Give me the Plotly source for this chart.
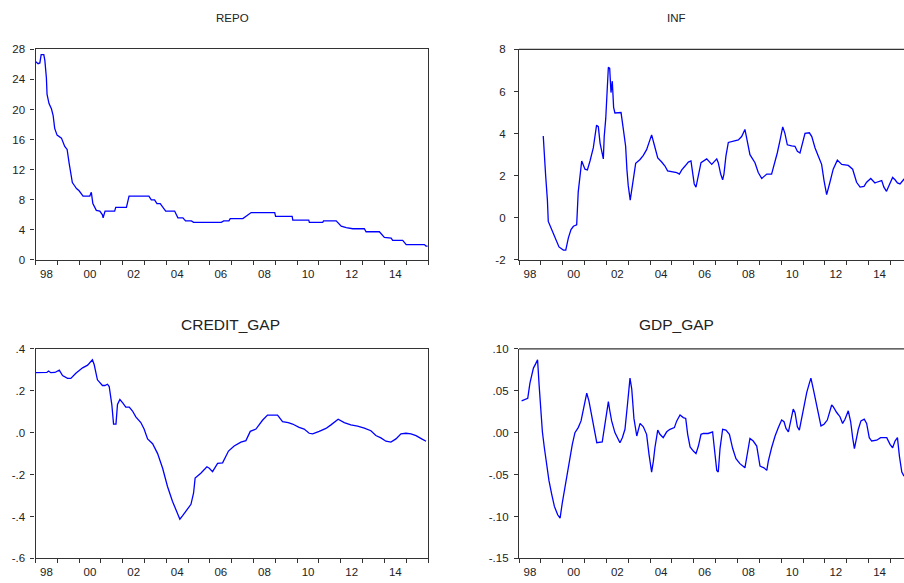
import plotly.graph_objects as go

# ---------------- data (decimal year, value) ----------------
repo_t = [1998.00, 1998.12, 1998.20, 1998.26, 1998.38, 1998.43, 1998.50, 1998.53, 1998.62, 1998.73,
          1998.81, 1998.88, 1998.99, 1999.19, 1999.34, 1999.45, 1999.54, 1999.60, 1999.69, 1999.76,
          1999.88, 2000.00, 2000.11, 2000.18, 2000.49, 2000.56, 2000.63, 2000.72, 2000.79, 2000.95,
          2001.07, 2001.10, 2001.19, 2001.63, 2001.68, 2002.17, 2002.29, 2003.20, 2003.31, 2003.46,
          2003.57, 2003.72, 2003.85, 2003.97, 2004.38, 2004.53, 2004.76, 2004.88, 2005.15, 2005.25,
          2006.52, 2006.63, 2006.87, 2006.93, 2007.51, 2007.66, 2007.89, 2008.97, 2009.01, 2009.77,
          2009.80, 2010.53, 2010.56, 2011.17, 2011.21, 2011.79, 2011.90, 2012.02, 2012.25, 2012.55,
          2013.08, 2013.16, 2013.77, 2013.85, 2014.00, 2014.31, 2014.38, 2014.84, 2015.00, 2015.83,
          2015.91, 2015.98]
repo_v = [26.4, 26.1, 26.2, 27.3, 27.3, 26.5, 24.2, 22.0, 20.8, 20.1,
          19.2, 17.5, 16.6, 16.2, 15.1, 14.7, 12.9, 11.6, 10.3, 10.0,
          9.5, 9.2, 8.8, 8.5, 8.5, 9.0, 7.5, 7.0, 6.6, 6.5,
          6.0, 5.6, 6.5, 6.5, 7.0, 7.0, 8.5, 8.5, 8.0, 8.0,
          7.5, 7.5, 7.0, 6.5, 6.5, 5.6, 5.6, 5.2, 5.2, 5.0,
          5.0, 5.2, 5.2, 5.5, 5.5, 5.8, 6.3, 6.3, 5.8, 5.8,
          5.3, 5.3, 5.0, 5.0, 5.2, 5.2, 4.9, 4.5, 4.3, 4.15,
          4.15, 3.75, 3.75, 3.5, 3.0, 2.9, 2.6, 2.6, 2.05, 2.05,
          1.85, 1.85]

inf_t = [1999.11, 1999.16, 1999.22, 1999.30, 1999.34, 1999.50, 1999.65, 1999.83, 2000.03, 2000.14,
         2000.26, 2000.38, 2000.49, 2000.64, 2000.71, 2000.79, 2000.87, 2001.02, 2001.13, 2001.25,
         2001.40, 2001.55, 2001.63, 2001.71, 2001.78, 2001.86, 2001.90, 2001.97, 2002.03, 2002.09,
         2002.15, 2002.21, 2002.27, 2002.33, 2002.39, 2002.67, 2002.77, 2002.88, 2002.94, 2003.00,
         2003.09, 2003.16, 2003.23, 2003.34, 2003.54, 2003.69, 2003.84, 2003.95, 2004.07, 2004.19,
         2004.35, 2004.53, 2004.68, 2004.80, 2005.06, 2005.22, 2005.34, 2005.45, 2005.60, 2005.75,
         2005.87, 2005.95, 2006.02, 2006.10, 2006.21, 2006.33, 2006.59, 2006.82, 2007.05, 2007.12,
         2007.23, 2007.32, 2007.38, 2007.47, 2007.58, 2007.81, 2008.04, 2008.19, 2008.34, 2008.42,
         2008.57, 2008.80, 2008.95, 2009.11, 2009.34, 2009.56, 2009.67, 2009.82, 2009.95, 2010.07,
         2010.17, 2010.28, 2010.48, 2010.63, 2010.74, 2010.86, 2011.09, 2011.29, 2011.40, 2011.55,
         2011.70, 2011.85, 2011.96, 2012.08, 2012.23, 2012.38, 2012.57, 2012.77, 2013.07, 2013.27,
         2013.45, 2013.61, 2013.79, 2013.91, 2014.10, 2014.29, 2014.37, 2014.60, 2014.70, 2014.82,
         2014.95, 2015.10, 2015.21, 2015.32, 2015.44, 2015.62, 2015.80]
inf_v = [3.89, 3.21, 2.00, 0.84, -0.17, -0.56, -0.95, -1.38, -1.53, -1.53,
         -0.95, -0.56, -0.40, -0.33, 1.22, 2.15, 2.70, 2.31, 2.28, 2.70,
         3.32, 4.40, 4.33, 3.55, 3.24, 2.80, 3.86, 4.71, 5.95, 7.15,
         7.10, 5.95, 6.49, 5.25, 4.98, 5.00, 4.25, 3.40, 2.28, 1.53,
         0.84, 1.38, 2.00, 2.59, 2.77, 2.97, 3.24, 3.55, 3.94, 3.47,
         2.85, 2.65, 2.46, 2.23, 2.20, 2.15, 2.08, 2.28, 2.46, 2.65,
         2.70, 2.00, 1.61, 1.46, 2.00, 2.62, 2.80, 2.54, 2.80, 2.62,
         2.08, 1.81, 2.08, 2.93, 3.58, 3.63, 3.70, 3.86, 4.20, 3.78,
         3.00, 2.62, 2.15, 1.87, 2.08, 2.08, 2.46, 3.08, 3.70, 4.32,
         4.01, 3.47, 3.42, 3.40, 3.16, 3.08, 4.01, 4.04, 3.86, 3.32,
         2.93, 2.54, 1.77, 1.10, 1.69, 2.31, 2.74, 2.54, 2.49, 2.31,
         1.69, 1.46, 1.49, 1.69, 1.87, 1.66, 1.69, 1.77, 1.46, 1.26,
         1.57, 1.92, 1.81, 1.66, 1.61, 1.84, 1.90]

credit_t = [1998.00, 1998.52, 1998.60, 1998.70, 1998.89, 1999.09, 1999.24, 1999.47, 1999.62, 1999.85,
            2000.16, 2000.39, 2000.61, 2000.69, 2000.84, 2001.07, 2001.18, 2001.30, 2001.38, 2001.50,
            2001.58, 2001.69, 2001.76, 2001.87, 2002.00, 2002.14, 2002.30, 2002.45, 2002.60, 2002.83,
            2002.98, 2003.14, 2003.37, 2003.60, 2003.83, 2004.05, 2004.28, 2004.51, 2004.62, 2004.74,
            2004.97, 2005.13, 2005.25, 2005.32, 2005.58, 2005.86, 2005.97, 2006.12, 2006.35, 2006.58,
            2006.85, 2007.11, 2007.42, 2007.65, 2007.85, 2008.11, 2008.41, 2008.64, 2009.10, 2009.33,
            2009.59, 2009.79, 2010.09, 2010.32, 2010.55, 2010.71, 2011.01, 2011.32, 2011.55, 2011.88,
            2012.16, 2012.46, 2012.77, 2013.08, 2013.38, 2013.61, 2013.84, 2014.07, 2014.30, 2014.53,
            2014.76, 2014.99, 2015.22, 2015.45, 2015.71, 2015.91]
credit_v = [0.286, 0.287, 0.294, 0.286, 0.287, 0.298, 0.272, 0.259, 0.259, 0.283,
            0.309, 0.322, 0.348, 0.325, 0.252, 0.225, 0.225, 0.231, 0.220, 0.134,
            0.041, 0.041, 0.134, 0.158, 0.142, 0.122, 0.122, 0.103, 0.075, 0.048,
            0.017, -0.030, -0.053, -0.100, -0.170, -0.256, -0.327, -0.389, -0.413, -0.397,
            -0.366, -0.342, -0.288, -0.217, -0.194, -0.163, -0.170, -0.186, -0.147, -0.144,
            -0.088, -0.064, -0.045, -0.038, 0.006, 0.017, 0.059, 0.084, 0.084, 0.052,
            0.048, 0.041, 0.025, 0.017, -0.003, -0.006, 0.006, 0.020, 0.037, 0.064,
            0.048, 0.037, 0.031, 0.022, 0.009, -0.014, -0.025, -0.041, -0.045, -0.030,
            -0.006, -0.003, -0.006, -0.014, -0.030, -0.041]

gdp_t = [1998.12, 1998.40, 1998.50, 1998.58, 1998.66, 1998.76, 1998.85, 1998.92, 1998.99, 1999.07,
         1999.16, 1999.27, 1999.37, 1999.50, 1999.62, 1999.77, 1999.88, 1999.98, 2000.11, 2000.23,
         2000.33, 2000.44, 2000.56, 2000.71, 2000.84, 2000.94, 2001.10, 2001.20, 2001.33, 2001.45,
         2001.56, 2001.81, 2001.94, 2002.09, 2002.15, 2002.24, 2002.39, 2002.62, 2002.73, 2002.85,
         2002.97, 2003.08, 2003.16, 2003.26, 2003.39, 2003.54, 2003.69, 2003.84, 2003.95, 2004.07,
         2004.15, 2004.22, 2004.35, 2004.45, 2004.60, 2004.76, 2004.91, 2005.11, 2005.22, 2005.37,
         2005.52, 2005.63, 2005.72, 2005.83, 2005.98, 2006.10, 2006.21, 2006.33, 2006.44, 2006.66,
         2006.86, 2006.97, 2007.05, 2007.12, 2007.20, 2007.32, 2007.47, 2007.63, 2007.78, 2007.93,
         2008.11, 2008.34, 2008.45, 2008.57, 2008.72, 2008.88, 2009.03, 2009.21, 2009.34, 2009.41,
         2009.56, 2009.72, 2009.87, 2010.02, 2010.13, 2010.22, 2010.33, 2010.44, 2010.55, 2010.63,
         2010.74, 2010.83, 2010.94, 2011.04, 2011.17, 2011.29, 2011.36, 2011.47, 2011.59, 2011.70,
         2011.82, 2011.96, 2012.11, 2012.31, 2012.38, 2012.54, 2012.69, 2012.81, 2012.92, 2013.07,
         2013.18, 2013.27, 2013.35, 2013.42, 2013.53, 2013.65, 2013.80, 2013.91, 2014.03, 2014.14,
         2014.37, 2014.55, 2014.83, 2014.98, 2015.10, 2015.21, 2015.32, 2015.41, 2015.52, 2015.60,
         2015.75]
gdp_v = [0.038, 0.041, 0.059, 0.069, 0.077, 0.082, 0.087, 0.057, 0.028, 0.001,
         -0.018, -0.040, -0.057, -0.074, -0.088, -0.098, -0.102, -0.084, -0.065, -0.045,
         -0.028, -0.014, 0.000, 0.006, 0.014, 0.028, 0.047, 0.038, 0.019, 0.001,
         -0.012, -0.011, 0.011, 0.037, 0.027, 0.014, 0.000, -0.012, -0.006, 0.004,
         0.035, 0.065, 0.052, 0.017, -0.004, 0.011, 0.007, -0.002, -0.026, -0.047,
         -0.034, -0.018, 0.003, -0.002, -0.006, 0.001, 0.004, 0.006, 0.014, 0.021,
         0.018, 0.017, -0.002, -0.017, -0.022, -0.025, -0.016, -0.002, -0.001, -0.001,
         0.001, -0.026, -0.045, -0.047, -0.019, 0.004, 0.003, -0.002, -0.019, -0.031,
         -0.037, -0.042, -0.024, -0.007, -0.010, -0.016, -0.040, -0.042, -0.045, -0.034,
         -0.018, -0.004, 0.006, 0.015, 0.013, 0.005, 0.001, 0.017, 0.028, 0.024,
         0.007, 0.003, 0.017, 0.034, 0.048, 0.059, 0.065, 0.052, 0.037, 0.023,
         0.008, 0.010, 0.015, 0.033, 0.031, 0.024, 0.019, 0.011, 0.016, 0.026,
         0.013, -0.006, -0.019, -0.010, 0.004, 0.014, 0.016, 0.011, -0.006, -0.010,
         -0.009, -0.006, -0.006, -0.014, -0.018, -0.010, -0.006, -0.028, -0.047, -0.051,
         -0.055]

titles = ["REPO", "INF", "CREDIT_GAP", "GDP_GAP"]
year_labels = ["98", "00", "02", "04", "06", "08", "10", "12", "14"]
year_label_pos = [1998.5 + 2 * i for i in range(9)]
year_ticks = list(range(1998, 2017))

repo_ticks = [0, 4, 8, 12, 16, 20, 24, 28]
repo_ticktext = ["0", "4", "8", "12", "16", "20", "24", "28"]
inf_ticks = [-2, 0, 2, 4, 6, 8]
inf_ticktext = ["-2", "0", "2", "4", "6", "8"]
credit_ticks = [-0.6, -0.4, -0.2, 0.0, 0.2, 0.4]
credit_ticktext = ["-.6", "-.4", "-.2", ".0", ".2", ".4"]
gdp_ticks = [-0.15, -0.10, -0.05, 0.0, 0.05, 0.10]
gdp_ticktext = ["-.15", "-.10", "-.05", ".00", ".05", ".10"]

# ---------------- figure ----------------
W, H = 904, 583
LINE = "#0000ff"
AX = "#333333"
FONT = "Arial, Liberation Sans, sans-serif"
TICKFONT = dict(family=FONT, size=11.5, color="#222222")

fig = go.Figure()
series = [(repo_t, repo_v, "x", "y"), (inf_t, inf_v, "x2", "y2"),
          (credit_t, credit_v, "x3", "y3"), (gdp_t, gdp_v, "x4", "y4")]
for t, v, xa, ya in series:
    fig.add_trace(go.Scatter(x=t, y=v, mode="lines", xaxis=xa, yaxis=ya,
                             line=dict(color=LINE, width=1.3), showlegend=False,
                             hoverinfo="skip"))

def px_x(p):
    return p / W

def px_y(p):
    return 1 - p / H

left_dom = [px_x(35.5), px_x(428)]
right_dom = [px_x(519), 1.0]
top_dom = [px_y(259.3), px_y(44.3)]
bot_dom = [px_y(564), px_y(350)]

def xaxis(dom, anchor, rng, mirror):
    return dict(domain=dom, anchor=anchor, range=rng, showgrid=False, zeroline=False,
                showline=True, linecolor=AX, linewidth=1.2, mirror=mirror,
                tickmode="array", tickvals=year_label_pos, ticktext=year_labels,
                ticks="outside", ticklen=3, tickcolor="rgba(0,0,0,0)",
                tickfont=TICKFONT,
                minor=dict(tickmode="array", tickvals=year_ticks, ticks="outside",
                           ticklen=4, tickcolor=AX, tickwidth=1, showgrid=False),
                fixedrange=True)

def yaxis(dom, anchor, rng, tv, tt, mirror, standoff):
    return dict(domain=dom, anchor=anchor, range=rng, showgrid=False, zeroline=False,
                showline=True, linecolor=AX, linewidth=1.2, mirror=mirror,
                tickmode="array", tickvals=tv, ticktext=tt, ticks="outside",
                ticklen=4, tickcolor=AX, tickwidth=1, ticklabelstandoff=standoff,
                tickfont=TICKFONT, fixedrange=True)

xr_right = 1998 + (904 - 519) / 21.85

fig.update_layout(
    width=W, height=H, autosize=False,
    margin=dict(l=0, r=0, t=0, b=0),
    paper_bgcolor="white", plot_bgcolor="white",
    xaxis=xaxis(left_dom, "y", [1998, 2016], True),
    yaxis=yaxis(top_dom, "x", [0, 28], repo_ticks, repo_ticktext, True, 3),
    xaxis2=xaxis(right_dom, "y2", [1998, xr_right], False),
    yaxis2=yaxis(top_dom, "x2", [-2, 8], inf_ticks, inf_ticktext, False, 6),
    xaxis3=xaxis(left_dom, "y3", [1998, 2016], True),
    yaxis3=yaxis(bot_dom, "x3", [-0.6, 0.4], credit_ticks, credit_ticktext, True, 3),
    xaxis4=xaxis(right_dom, "y4", [1998, xr_right], False),
    yaxis4=yaxis(bot_dom, "x4", [-0.15, 0.10], gdp_ticks, gdp_ticktext, False, 3),
)

# top border of the right-hand panels (their right edge lies outside the picture)
for xd, yd in [("x2 domain", "y2 domain"), ("x4 domain", "y4 domain")]:
    fig.add_shape(type="line", xref=xd, yref=yd, x0=0, x1=1, y0=1, y1=1,
                  line=dict(color=AX, width=1.2))

title_pos = [(232, 12, 11.5), (676, 12, 11.5), (231, 325, 15.5), (676, 325, 15.5)]
for text, (x, y, s) in zip(titles, title_pos):
    fig.add_annotation(text=text, x=px_x(x), y=px_y(y), xref="paper", yref="paper",
                       showarrow=False, xanchor="center", yanchor="middle",
                       font=dict(family=FONT, size=s, color="#222222"))

fig.write_html("out.html", config={"displayModeBar": False},
               post_script="document.body.style.margin='0px';"
                           "document.body.style.overflow='hidden';")
